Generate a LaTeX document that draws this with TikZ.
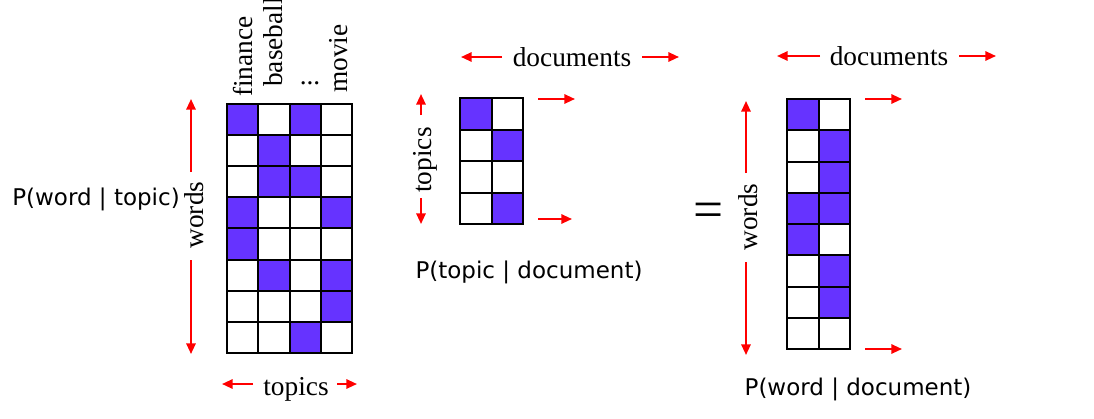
\documentclass[tikz,border=0pt]{standalone}
\usepackage{fontspec}
\setmainfont{Liberation Serif}
\newfontfamily\dvs{DejaVu Sans}
\usetikzlibrary{arrows.meta}
\definecolor{purp}{RGB}{102,51,255}
\definecolor{arrred}{RGB}{255,0,0}
\begin{document}
\begin{tikzpicture}[x=0.75pt,y=-0.75pt,
  lab/.style={font=\fontsize{20.5}{24}\selectfont, inner sep=0pt},
  prob/.style={font=\dvs\fontsize{17.25}{20}\selectfont, inner sep=0pt},
  rarr/.style={draw=arrred, line width=1.5pt, -{Triangle[length=8pt,width=7pt]}},
  gridline/.style={draw=black, line width=1.5pt, line cap=rect},
  cellfill/.style={fill=purp},
  eqsign/.style={font=\fontsize{40}{44}\selectfont, inner sep=0pt}
]
\useasboundingbox (0,0) rectangle (1094,418);

% ---------- left matrix: P(word | topic) ----------
\foreach \c/\r in {0/0,2/0,1/1,1/2,2/2,0/3,3/3,0/4,1/5,3/5,3/6,2/7}
  \fill[cellfill] ({227+\c*31.25},{104+\r*31.1}) rectangle ++(31.25,31.1);
\foreach \i in {0,...,4} \draw[gridline] ({227+\i*31.25},104) -- ++(0,248.8);
\foreach \j in {0,...,8} \draw[gridline] (227,{104+\j*31.1}) -- ++(125,0);

\node[lab, rotate=90, anchor=base west] (finance) at (252,97) {finance};
\node[lab, rotate=90, anchor=base west] (baseball) at (282,87) {baseball};
\node[lab, anchor=base] (dots) at (310,84) {...};
\node[lab, rotate=90, anchor=base west] (movie) at (347,93) {movie};

\node[lab, rotate=90, anchor=base] (lwords) at (203,215) {words};
\coordinate (lwA) at (191,172); \coordinate (lwAt) at (191,99);
\coordinate (lwB) at (191,260); \coordinate (lwBt) at (191,354);
\draw[rarr] (lwA) -- (lwAt);
\draw[rarr] (lwB) -- (lwBt);

\node[lab, anchor=base] (ltopics) at (296,395) {topics};
\coordinate (ltA) at (253,384); \coordinate (ltAt) at (222,384);
\coordinate (ltB) at (337,384); \coordinate (ltBt) at (357,384);
\draw[rarr] (ltA) -- (ltAt);
\draw[rarr] (ltB) -- (ltBt);

\node[prob, anchor=base] (pwt) at (96,205) {P(word | topic)};

% ---------- middle matrix: P(topic | document) ----------
\foreach \c/\r in {0/0,1/1,1/3}
  \fill[cellfill] ({460+\c*31.5},{98+\r*31.5}) rectangle ++(31.5,31.5);
\foreach \i in {0,...,2} \draw[gridline] ({460+\i*31.5},98) -- ++(0,126);
\foreach \j in {0,...,4} \draw[gridline] (460,{98+\j*31.5}) -- ++(63,0);

\node[lab, rotate=90, anchor=base] (mtopics) at (431,160) {topics};
\coordinate (mtA) at (421,115); \coordinate (mtAt) at (421,94);
\coordinate (mtB) at (421,198); \coordinate (mtBt) at (421,224);
\draw[rarr] (mtA) -- (mtAt);
\draw[rarr] (mtB) -- (mtBt);

\node[lab, anchor=base] (mdocs) at (572,66) {documents};
\coordinate (mdA) at (502,57); \coordinate (mdAt) at (461,57);
\coordinate (mdB) at (642,57); \coordinate (mdBt) at (679,57);
\draw[rarr] (mdA) -- (mdAt);
\draw[rarr] (mdB) -- (mdBt);

\coordinate (msA) at (538,99); \coordinate (msAt) at (575,99);
\coordinate (msB) at (538,219); \coordinate (msBt) at (572,219);
\draw[rarr] (msA) -- (msAt);
\draw[rarr] (msB) -- (msBt);

\node[prob, anchor=base] (ptd) at (529,278) {P(topic | document)};

% ---------- equals ----------
\node[eqsign] (eq) at (709,215) {=};

% ---------- right matrix: P(word | document) ----------
\foreach \c/\r in {0/0,1/1,1/2,0/3,1/3,0/4,1/5,1/6}
  \fill[cellfill] ({787+\c*31.5},{99+\r*31.25}) rectangle ++(31.5,31.25);
\foreach \i in {0,...,2} \draw[gridline] ({787+\i*31.5},99) -- ++(0,250);
\foreach \j in {0,...,8} \draw[gridline] (787,{99+\j*31.25}) -- ++(63,0);

\node[lab, rotate=90, anchor=base] (rwords) at (757,217) {words};
\coordinate (rwA) at (746,173); \coordinate (rwAt) at (746,101);
\coordinate (rwB) at (746,262); \coordinate (rwBt) at (746,355);
\draw[rarr] (rwA) -- (rwAt);
\draw[rarr] (rwB) -- (rwBt);

\node[lab, anchor=base] (rdocs) at (889,65) {documents};
\coordinate (rdA) at (820,56); \coordinate (rdAt) at (777,56);
\coordinate (rdB) at (959,56); \coordinate (rdBt) at (996,56);
\draw[rarr] (rdA) -- (rdAt);
\draw[rarr] (rdB) -- (rdBt);

\coordinate (rsA) at (865,99); \coordinate (rsAt) at (902,99);
\coordinate (rsB) at (865,349); \coordinate (rsBt) at (902,349);
\draw[rarr] (rsA) -- (rsAt);
\draw[rarr] (rsB) -- (rsBt);

\node[prob, anchor=base] (pwd) at (858,395) {P(word | document)};
\end{tikzpicture}
\end{document}
